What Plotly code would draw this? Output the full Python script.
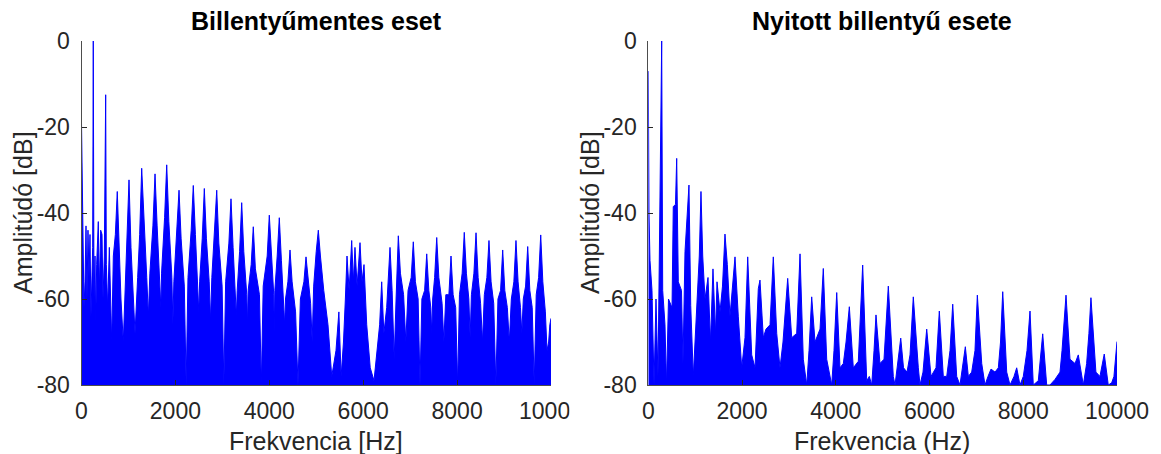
import plotly.graph_objects as go

# ---------------- data ----------------
LEFT_TITLE = "Billentyűmentes eset"
RIGHT_TITLE = "Nyitott billentyű esete"
LEFT_XLABEL = "Frekvencia [Hz]"
RIGHT_XLABEL = "Frekvencia (Hz)"
YLABEL = "Amplitúdó [dB]"

X_TICKS = [0, 2000, 4000, 6000, 8000, 10000]
X_TICK_TEXT = ["0", "2000", "4000", "6000", "8000", "10000"]
Y_TICKS = [-80, -60, -40, -20, 0]
Y_TICK_TEXT = ["-80", "-60", "-40", "-20", "0"]
X_MAX = 10000
Y_MIN = -80
Y_MAX = 0

# left spectrum: frequency [Hz] / amplitude [dB] envelope points
LEFT_HZ = [
    0, 17, 32, 53, 75,
    96, 117, 138, 160, 181,
    202, 224, 238, 251, 266,
    288, 302, 323, 358, 379,
    408, 437, 458, 486, 515,
    529, 557, 593, 614, 643,
    678, 721, 762, 805, 841,
    890, 934, 969, 1012, 1054,
    1090, 1140, 1196, 1239, 1282,
    1327, 1390, 1424, 1456, 1521, 1566,
    1611, 1676, 1690, 1705, 1770, 1815,
    1860, 1925, 1946, 1967, 2032, 2077,
    2122, 2190, 2229, 2268, 2336, 2381,
    2426, 2480, 2498, 2516, 2571, 2616,
    2661, 2720, 2748, 2776, 2835, 2880,
    2925, 2995, 3032, 3070, 3139, 3184,
    3229, 3280, 3298, 3316, 3367, 3412,
    3457, 3520, 3535, 3550, 3614, 3659,
    3704, 3790, 3830, 3870, 3955, 4000,
    4045, 4095, 4106, 4118, 4168, 4213,
    4258, 4310, 4327, 4345, 4396, 4441,
    4486, 4560, 4611, 4662, 4737, 4782,
    4827, 4880, 4913, 4945, 4999, 5044,
    5089, 5160, 5250, 5330, 5420, 5482,
    5530, 5580, 5620, 5655, 5700, 5755,
    5790, 5825, 5870, 5932, 5975, 6017,
    6075, 6150, 6230, 6300, 6350, 6394,
    6440, 6500, 6571, 6616, 6660, 6700,
    6748, 6793, 6860, 6908, 6955, 7022,
    7067, 7112, 7170, 7210, 7250, 7308,
    7353, 7398, 7440, 7460, 7480, 7521,
    7566, 7611, 7680, 7718, 7760, 7825,
    7870, 7915, 7970, 8012, 8050, 8108,
    8153, 8198, 8250, 8278, 8305, 8358,
    8403, 8448, 8500, 8541, 8580, 8634,
    8679, 8724, 8780, 8825, 8870, 8926,
    8971, 9016, 9070, 9112, 9155, 9209,
    9254, 9299, 9350, 9379, 9410, 9459,
    9504, 9549, 9600, 9642, 9685, 9736,
    9781, 9826, 9880, 9915, 9950, 9975,
    10000,
]
LEFT_DB = [
    -19, -35, -47, -62, -56,
    -43, -60, -44, -55, -45,
    -64, -52, -48, 0, -60,
    -50, -66, -52, -42, -58,
    -44, -45, -60, -50, -12.5,
    -52, -62, -48, -58, -70,
    -50, -45, -35, -52, -60,
    -70, -56, -47, -32.3, -48,
    -58, -68, -55, -45, -29.6,
    -42, -55, -64, -54, -43, -30.9,
    -43, -56, -62, -54, -41, -28.8,
    -42, -55, -66, -56, -45, -34.7,
    -46, -57, -80, -55, -44, -33.6,
    -45, -57, -63, -56, -46, -34.3,
    -46, -56, -65, -55, -45, -34.7,
    -47, -57, -80, -56, -47, -36.7,
    -48, -58, -64, -58, -49, -37.6,
    -49, -59, -66, -58, -52, -43.2,
    -53, -59, -80, -57, -50, -40.5,
    -50, -59, -68, -58, -50, -41.1,
    -51, -61, -66, -60, -56, -48.6,
    -56, -63, -80, -60, -56, -50.2,
    -55, -61, -70, -57, -49, -44,
    -50, -58, -66, -78, -72, -63,
    -78, -70, -60, -50, -58, -46.4,
    -56, -48, -57, -46.9, -56, -52,
    -66, -76, -79, -72, -66, -56,
    -68, -62, -48, -58, -74, -60,
    -45.3, -54, -59, -70, -58, -55,
    -46.7, -56, -60, -80, -60, -58,
    -49.5, -58, -62, -68, -60, -55,
    -45.7, -55, -61, -70, -59, -59,
    -50, -59, -62, -80, -59, -54,
    -44.5, -54, -60, -69, -59, -54,
    -44.6, -55, -61, -70, -59, -55,
    -46.4, -56, -61, -80, -60, -58,
    -48.6, -58, -62, -70, -60, -56,
    -46.4, -56, -62, -68, -60, -57,
    -47.8, -58, -62, -80, -59, -55,
    -45.1, -56, -63, -72, -70, -66,
    -64.5,
]

# right spectrum: frequency [Hz] / amplitude [dB] envelope points
RIGHT_HZ = [
    0, 15, 36, 79, 122, 164,
    207, 241, 286, 307, 356, 388,
    431, 506, 533, 580, 606, 640,
    708, 740, 783, 868, 905, 960,
    1033, 1088, 1124, 1161, 1210, 1274,
    1327, 1380, 1434, 1466, 1530, 1583,
    1636, 1686, 1743, 1850, 1920, 1993,
    2063, 2121, 2206, 2277, 2347, 2383,
    2454, 2511, 2597, 2667, 2740, 2810,
    2874, 2974, 3060, 3166, 3237, 3307,
    3380, 3429, 3486, 3557, 3664, 3734,
    3806, 3913, 3962, 4020, 4090, 4161,
    4219, 4289, 4374, 4481, 4574, 4660,
    4716, 4767, 4816, 4858, 4943, 5029,
    5121, 5227, 5264, 5328, 5386, 5445,
    5520, 5584, 5654, 5761, 5797, 5861,
    5940, 6032, 6138, 6209, 6294, 6367,
    6437, 6495, 6580, 6650, 6693, 6764,
    6828, 6900, 6970, 7020, 7114, 7184,
    7248, 7312, 7397, 7468, 7515, 7562,
    7647, 7717, 7803, 7860, 7930, 8001,
    8080, 8144, 8214, 8321, 8415, 8500,
    8570, 8677, 8784, 8827, 8912, 8997,
    9104, 9174, 9281, 9352, 9401, 9444,
    9550, 9636, 9728, 9814, 9886, 9935,
    10000,
]
RIGHT_DB = [
    -7, -40, -51, -58, -80, -60,
    -78, -45, 0, -58, -66, -80,
    -60, -62, -38.5, -38, -27.3, -56,
    -58, -75, -49, -33.5, -61.5, -78,
    -61, -50, -35, -50, -60, -55,
    -70, -53, -68, -56, -63, -57,
    -44.9, -52, -64, -50.2, -64, -76,
    -69, -50.2, -73, -76, -57.6, -55.6,
    -69, -67, -66, -50.2, -68, -76,
    -70, -55.2, -69, -68, -49.5, -74,
    -80, -72, -59.5, -70, -67, -52.9,
    -74, -80, -72, -58.5, -76, -75,
    -70, -61.8, -76, -74.5, -52.1, -79,
    -78, -80, -72, -63.7, -75, -74,
    -57, -78, -80, -74, -69.1, -76,
    -77, -73, -59.5, -76, -80, -77,
    -67, -78, -76, -62.8, -78, -78,
    -72, -61.2, -78, -80, -77, -71.1,
    -78, -77, -72, -59.1, -75, -80,
    -78, -76.3, -77, -76, -70, -58.3,
    -77, -80, -78, -76, -80, -78,
    -72, -62.8, -80, -79, -68.1, -80,
    -80, -78.7, -77, -72, -59.1, -74,
    -75, -73, -80, -75, -68, -59.7,
    -77, -78, -72.8, -80, -79.5, -78,
    -69.9,
]

assert len(LEFT_HZ) == len(LEFT_DB)
assert len(RIGHT_HZ) == len(RIGHT_DB)

# ---------------- styling ----------------
W, H = 1161, 454
BLUE = "#0000FF"
TXT = "#262626"
FONT = "Liberation Sans, Arial, Helvetica, sans-serif"
TICK_SIZE = 23
LABEL_SIZE = 25
TITLE_SIZE = 25

# plot area in pixels
L_X0, L_X1 = 81.5, 551.0
R_X0, R_X1 = 648.3, 1117.0
P_TOP, P_BOT = 41.0, 385.0


def px_x(v):
    return v / W


def px_y(v):
    return (H - v) / H


fig = go.Figure()

for hz, db, xa, ya in [(LEFT_HZ, LEFT_DB, "x", "y"), (RIGHT_HZ, RIGHT_DB, "x2", "y2")]:
    fig.add_trace(go.Scatter(
        x=[hz[0], hz[-1]], y=[Y_MIN, Y_MIN], mode="lines",
        line=dict(width=0, color=BLUE), showlegend=False, hoverinfo="skip",
        xaxis=xa, yaxis=ya,
    ))
    fig.add_trace(go.Scatter(
        x=hz, y=db, mode="lines", fill="tonexty", fillcolor=BLUE,
        line=dict(width=1, color=BLUE), showlegend=False,
        xaxis=xa, yaxis=ya,
    ))

xcommon = dict(
    range=[0, X_MAX], tickvals=X_TICKS, ticktext=X_TICK_TEXT,
    ticks="inside", ticklen=5, tickwidth=1, tickcolor=TXT,
    showline=True, linecolor="#4d4d4d", linewidth=1,
    showgrid=False, zeroline=False, automargin=False,
    tickfont=dict(family=FONT, size=TICK_SIZE, color=TXT),
    ticklabelstandoff=5,
)
ycommon = dict(
    range=[Y_MIN, Y_MAX], tickvals=Y_TICKS, ticktext=Y_TICK_TEXT,
    ticks="inside", ticklen=5, tickwidth=1, tickcolor=TXT,
    showline=True, linecolor="#4d4d4d", linewidth=1,
    showgrid=False, zeroline=False, automargin=False,
    tickfont=dict(family=FONT, size=TICK_SIZE, color=TXT),
    ticklabelstandoff=6,
)

fig.update_layout(
    width=W, height=H, autosize=False,
    margin=dict(l=0, r=0, t=0, b=0, pad=0, autoexpand=False),
    paper_bgcolor="white", plot_bgcolor="white",
    showlegend=False,
    xaxis=dict(domain=[px_x(L_X0), px_x(L_X1)], anchor="y", **xcommon),
    yaxis=dict(domain=[px_y(P_BOT), px_y(P_TOP)], anchor="x", **ycommon),
    xaxis2=dict(domain=[px_x(R_X0), px_x(R_X1)], anchor="y2", **xcommon),
    yaxis2=dict(domain=[px_y(P_BOT), px_y(P_TOP)], anchor="x2", **ycommon),
)

ann = []
for cx, title, xlabel, ylx in [(316, LEFT_TITLE, LEFT_XLABEL, 23), (882, RIGHT_TITLE, RIGHT_XLABEL, 590)]:
    ann.append(dict(x=px_x(cx), y=px_y(21), xref="paper", yref="paper", text="<b>%s</b>" % title,
                    showarrow=False, xanchor="center", yanchor="middle",
                    font=dict(family=FONT, size=TITLE_SIZE, color="black")))
    ann.append(dict(x=px_x(cx), y=px_y(441), xref="paper", yref="paper", text=xlabel,
                    showarrow=False, xanchor="center", yanchor="middle",
                    font=dict(family=FONT, size=LABEL_SIZE, color=TXT)))
    ann.append(dict(x=px_x(ylx), y=px_y(213), xref="paper", yref="paper", text=YLABEL,
                    showarrow=False, xanchor="center", yanchor="middle", textangle=-90,
                    font=dict(family=FONT, size=LABEL_SIZE, color=TXT)))
fig.update_layout(annotations=ann)

# the left panel's last tick label is cut off by the right panel in the reference
fig.add_shape(type="rect", xref="paper", yref="paper",
              x0=px_x(569.5), x1=px_x(590), y0=px_y(428), y1=px_y(392),
              fillcolor="white", line=dict(width=0), layer="above")

fig.write_html(
    "out.html",
    config={"displayModeBar": False},
    post_script="document.body.style.margin='0';document.body.style.overflow='hidden';",
)
